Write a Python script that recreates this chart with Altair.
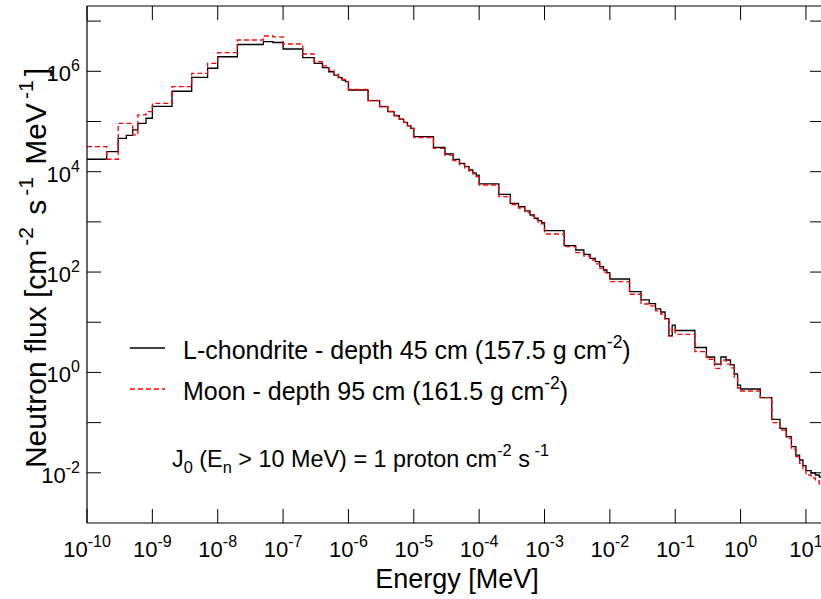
import altair as alt
import pandas as pd

# ---------------- data ----------------
# lower edges of the energy groups [MeV]; last group ends at energy_top
energy_edges = [
    1e-10, 2e-10, 3e-10, 4e-10, 5e-10, 6e-10, 8e-10,
    1e-9, 2e-9, 4e-9, 7e-9,
    1e-8, 2e-8, 5e-8, 7e-8,
    1e-7, 2e-7, 3e-7, 4e-7, 5e-7, 6e-7, 7e-7, 8e-7, 9e-7,
    1e-6, 2e-6, 3e-6, 4e-6, 5e-6, 6e-6, 7e-6, 8e-6, 9e-6,
    1e-5, 2e-5, 3e-5, 4e-5, 5e-5, 6e-5, 7e-5, 8e-5, 9e-5,
    1e-4, 2e-4, 3e-4, 4e-4, 5e-4, 6e-4, 7e-4, 8e-4, 9e-4,
    1e-3, 2e-3, 3e-3, 4e-3, 5e-3, 6e-3, 7e-3, 8e-3, 9e-3,
    1e-2, 2e-2, 3e-2, 4e-2, 5e-2, 6e-2, 7e-2, 8e-2, 9e-2,
    0.1, 0.2, 0.3, 0.4, 0.5, 0.6, 0.7, 0.8, 0.9,
    1.0, 2.0, 3.0, 4.0, 5.0, 6.0, 7.0, 8.0, 9.0,
    10.0, 12.0, 14.0, 16.0, 18.0,
]
energy_top = 20.0

flux_chondrite = [
    1.77e4, 2.50e4, 4.62e4, 5.3e4, 6.8e4, 9.2e4, 1.16e5,
    2.0e5, 4.0e5, 7.6e5, 1.15e6,
    1.95e6, 3.42e6, 3.89e6, 3.75e6,
    2.78e6, 1.87e6, 1.44e6, 1.18e6, 9.8e5, 8.4e5, 7.5e5, 6.7e5, 6.2e5,
    4.24e5, 2.60e5, 1.97e5, 1.57e5, 1.30e5, 1.11e5, 9.6e4, 8.2e4, 7.3e4,
    4.98e4, 3.06e4, 2.25e4, 1.76e4, 1.47e4, 1.26e4, 1.08e4, 9.5e3, 8.5e3,
    5.7e3, 3.54e3, 2.34e3, 2.0e3, 1.65e3, 1.37e3, 1.18e3, 1.06e3, 9.6e2,
    6.7e2, 3.35e2, 2.75e2, 2.26e2, 1.88e2, 1.61e2, 1.28e2, 1.10e2, 97.0,
    72.7, 40.6, 27.8, 23.6, 18.4, 16.0, 11.8, 5.4, 8.8,
    6.85, 3.14, 2.03, 1.47, 2.03, 1.77, 1.41, 0.93, 0.56,
    0.468, 0.314, 0.1165, 0.0771, 0.0524, 0.0332, 0.0226, 0.018, 0.01387,
    0.01102, 0.00992, 0.00905, 0.00825, 0.00753,
]

flux_moon = [
    3.15e4, 1.77e4, 9.2e4, 9.2e4, 5.4e4, 1.35e5, 1.57e5,
    2.30e5, 4.93e5, 9.1e5, 1.44e6,
    2.35e6, 4.2e6, 5.05e6, 4.83e6,
    3.5e6, 2.21e6, 1.55e6, 1.28e6, 1.04e6, 8.8e5, 7.7e5, 6.9e5, 6.3e5,
    4.34e5, 2.62e5, 1.99e5, 1.58e5, 1.32e5, 1.12e5, 9.5e4, 8.3e4, 7.25e4,
    4.8e4, 2.9e4, 2.15e4, 1.67e4, 1.39e4, 1.18e4, 1.03e4, 9.0e3, 8.0e3,
    5.43e3, 3.17e3, 2.22e3, 1.89e3, 1.54e3, 1.31e3, 1.11e3, 9.9e2, 9.1e2,
    5.73e2, 3.2e2, 2.43e2, 2.09e2, 1.74e2, 1.45e2, 1.18e2, 1.0e2, 87.0,
    64.3, 36.1, 23.1, 21.1, 16.8, 14.6, 11.1, 5.3, 7.7,
    5.75, 2.59, 1.83, 1.21, 1.77, 1.47, 1.23, 0.81, 0.49,
    0.427, 0.314, 0.0997, 0.0713, 0.0487, 0.0294, 0.021, 0.0155, 0.0114,
    0.00905, 0.00788, 0.00687, 0.00599, 0.00522,
]

x_tick_values = [1e-10, 1e-9, 1e-8, 1e-7, 1e-6, 1e-5, 1e-4, 1e-3, 1e-2, 1e-1, 1e0, 1e1]
x_tick_exps = ["-10", "-9", "-8", "-7", "-6", "-5", "-4", "-3", "-2", "-1", "0", "1"]
y_tick_values = [1e-2, 1e-1, 1e0, 1e1, 1e2, 1e3, 1e4, 1e5, 1e6, 1e7]
y_label_values = [1e-2, 1e0, 1e2, 1e4, 1e6]
y_label_exps = ["-2", "0", "2", "4", "6"]

legend_1 = [("L-chondrite - depth 45 cm (157.5 g cm", "n"), ("-2", "sup"), (")", "n")]
legend_2 = [("Moon - depth 95 cm (161.5 g cm", "n"), ("-2", "sup"), (")", "n")]
note = [("J", "n"), ("0", "sub"), (" (E", "n"), ("n", "sub"),
        (" > 10 MeV) = 1 proton cm", "n"), ("-2", "sup"), (" s", "n"), (" -1", "sup")]
y_title = [("Neutron flux [cm", "n"), ("-2", "sup"), (" s", "n"), ("-1", "sup"),
           (" MeV", "n"), ("-1", "sup"), ("]", "n")]
x_title = "Energy [MeV]"

# ---------------- layout ----------------
FONT = "Liberation Sans"
W, H = 734, 517
TICK_FS, TICK_SUP = 22, 16
LEG_FS = 25
NOTE_FS = 23.4
TITLE_FS = 27
YTITLE_FS = 30
SUP_GAP_Y = 4  # extra spacing around superscripts in the y title

xs = alt.Scale(type="log", domain=[1e-10, 17], nice=False)
ys = alt.Scale(type="log", domain=[1e-3, 2e7], nice=False)

AW = {" ": 278, "!": 278, "(": 333, ")": 333, "-": 333, ".": 278, "=": 584, ">": 584,
      "[": 278, "]": 278, "A": 667, "E": 667, "J": 500, "L": 556, "M": 833, "N": 722,
      "V": 667, "a": 556, "c": 500, "d": 556, "e": 556, "f": 278, "g": 556, "h": 556,
      "i": 222, "l": 222, "m": 833, "n": 556, "o": 556, "p": 556, "r": 333, "s": 500,
      "t": 278, "u": 556, "x": 500, "y": 500}


def tw(s, size):
    return sum(AW.get(c, 556) for c in s) * size / 1000.0


one = pd.DataFrame({"k": [0]})


def rich(pieces, x0, y0, size, vertical=False, color="black", gap=0.0):
    out = []
    small = size * 0.7
    pos = 0.0
    for txt, kind in pieces:
        fs = size if kind == "n" else small
        lead = len(txt) - len(txt.lstrip(" "))
        pos += tw(" " * lead, fs)
        t = txt.lstrip(" ")
        shift = 0.0
        if kind == "sup":
            shift = -size * 0.45
            pos += gap
        elif kind == "sub":
            shift = size * 0.25
        if vertical:
            px, py, ang = x0 + shift, y0 - pos, 270
        else:
            px, py, ang = x0 + pos, y0 + shift, 0
        out.append(
            alt.Chart(one).mark_text(align="left", baseline="alphabetic", font=FONT,
                                     fontSize=fs, color=color, angle=ang)
            .encode(x=alt.value(px), y=alt.value(py), text=alt.value(t))
        )
        pos += tw(t, fs)
        if kind == "sup":
            pos += gap
    return out, pos


def rich_len(pieces, size, gap=0.0):
    small = size * 0.7
    n_sup = sum(1 for _, k in pieces if k == "sup")
    return sum(tw(t, size if k == "n" else small) for t, k in pieces) + 2 * gap * n_sup


layers = []


def series_df(vals):
    return pd.DataFrame({"E": list(energy_edges) + [energy_top], "F": list(vals) + [vals[-1]]})


layers.append(
    alt.Chart(series_df(flux_chondrite)).mark_line(
        interpolate="step-after", color="black", strokeWidth=1.3, clip=True)
    .encode(x=alt.X("E:Q", scale=xs, axis=None), y=alt.Y("F:Q", scale=ys, axis=None))
)
layers.append(
    alt.Chart(series_df(flux_moon)).mark_line(
        interpolate="step-after", color="#ff0000", strokeWidth=1.3, strokeDash=[5, 3], clip=True)
    .encode(x=alt.X("E:Q", scale=xs, axis=None), y=alt.Y("F:Q", scale=ys, axis=None))
)

# frame (left, top, bottom)
for enc in [dict(x=alt.value(0), y=alt.value(0), y2=alt.value(H)),
            dict(x=alt.value(0), x2=alt.value(W), y=alt.value(0)),
            dict(x=alt.value(0), x2=alt.value(W), y=alt.value(H))]:
    layers.append(alt.Chart(one).mark_rule(color="black", strokeWidth=1.2).encode(**enc))

# inward ticks
xt = pd.DataFrame({"E": x_tick_values})
yt = pd.DataFrame({"F": y_tick_values})
for y1, y2 in [(H, H - 14), (0, 14)]:
    layers.append(alt.Chart(xt).mark_rule(color="black", strokeWidth=1)
                  .encode(x=alt.X("E:Q", scale=xs, axis=None), y=alt.value(y1), y2=alt.value(y2)))
for x1, x2 in [(0, 14), (W - 11, W)]:
    layers.append(alt.Chart(yt).mark_rule(color="black", strokeWidth=1)
                  .encode(y=alt.Y("F:Q", scale=ys, axis=None), x=alt.value(x1), x2=alt.value(x2)))

# x tick labels 10^n
for v, ex in zip(x_tick_values, x_tick_exps):
    wb, we = tw("10", TICK_FS), tw(ex, TICK_SUP)
    d = pd.DataFrame({"E": [v]})
    layers.append(alt.Chart(d).mark_text(align="left", baseline="alphabetic", font=FONT,
                                         fontSize=TICK_FS, dx=-(wb + we) / 2, color="black")
                  .encode(x=alt.X("E:Q", scale=xs, axis=None), y=alt.value(H + 34), text=alt.value("10")))
    layers.append(alt.Chart(d).mark_text(align="left", baseline="alphabetic", font=FONT,
                                         fontSize=TICK_SUP, dx=-(wb + we) / 2 + wb, color="black")
                  .encode(x=alt.X("E:Q", scale=xs, axis=None), y=alt.value(H + 24), text=alt.value(ex)))

# y tick labels 10^n
for v, ex in zip(y_label_values, y_label_exps):
    we = tw(ex, TICK_SUP)
    d = pd.DataFrame({"F": [v]})
    layers.append(alt.Chart(d).mark_text(align="right", baseline="alphabetic", font=FONT,
                                         fontSize=TICK_FS, dy=10, color="black")
                  .encode(y=alt.Y("F:Q", scale=ys, axis=None), x=alt.value(-7 - we), text=alt.value("10")))
    layers.append(alt.Chart(d).mark_text(align="right", baseline="alphabetic", font=FONT,
                                         fontSize=TICK_SUP, dy=0, color="black")
                  .encode(y=alt.Y("F:Q", scale=ys, axis=None), x=alt.value(-7), text=alt.value(ex)))

# axis titles
layers.append(alt.Chart(one).mark_text(align="center", baseline="alphabetic", font=FONT,
                                       fontSize=TITLE_FS, color="black")
              .encode(x=alt.value(370), y=alt.value(582), text=alt.value(x_title)))
ylen = rich_len(y_title, YTITLE_FS, SUP_GAP_Y)
yl, _ = rich(y_title, -41, 262 + ylen / 2, YTITLE_FS, vertical=True, gap=SUP_GAP_Y)
layers += yl

# legend
layers.append(alt.Chart(one).mark_rule(color="black", strokeWidth=1.3)
              .encode(x=alt.value(43), x2=alt.value(78), y=alt.value(342)))
layers.append(alt.Chart(one).mark_rule(color="#ff0000", strokeWidth=1.3, strokeDash=[5, 3])
              .encode(x=alt.value(43), x2=alt.value(78), y=alt.value(383)))
l1, _ = rich(legend_1, 96, 353, LEG_FS)
l2, _ = rich(legend_2, 96, 394, LEG_FS)
nt, _ = rich(note, 85, 461, NOTE_FS)
layers += l1 + l2 + nt

chart = alt.layer(*layers).properties(
    width=W, height=H,
    padding={"left": 87, "top": 6, "right": 0, "bottom": 76},
    autosize=alt.AutoSizeParams(type="none"),
).configure_view(stroke=None)

chart.save("out.html", embed_options={"renderer": "svg", "actions": False})
